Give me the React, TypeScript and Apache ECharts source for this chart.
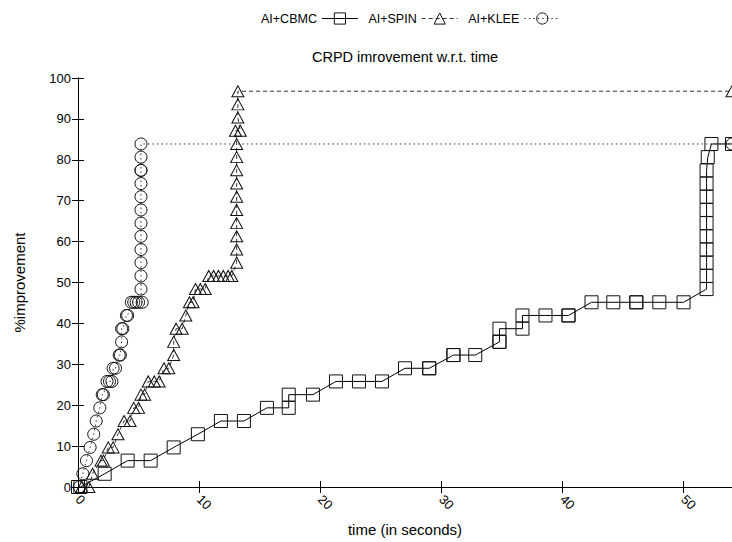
import React, { useEffect, useRef } from "react";
import * as echarts from "echarts";

// ---- data ----
const xTicks = [0, 10, 20, 30, 40, 50];
const yTicks = [0, 10, 20, 30, 40, 50, 60, 70, 80, 90, 100];

const cbmcTime = [0, 0.2, 2.2, 4.1, 6.0, 7.9, 9.9, 11.8, 13.7, 15.6, 17.4, 17.4, 19.4, 21.3, 23.2, 25.1, 27.0, 29.0, 29.0, 31.0, 31.0, 32.8, 34.8, 34.8, 34.8, 36.7, 36.7, 38.6, 40.5, 40.5, 42.4, 44.2, 46.1, 46.1, 48.0, 50.0, 51.9, 51.9, 51.9, 51.9, 51.9, 51.9, 51.9, 51.9, 51.9, 51.9, 52.0, 52.3, 54.0];
const cbmcImprovement = [0, 0, 3.23, 6.45, 6.45, 9.68, 12.9, 16.13, 16.13, 19.35, 19.35, 22.58, 22.58, 25.81, 25.81, 25.81, 29.03, 29.03, 29.03, 32.26, 32.26, 32.26, 35.48, 35.48, 38.71, 38.71, 41.94, 41.94, 41.94, 41.94, 45.16, 45.16, 45.16, 45.16, 45.16, 45.16, 48.39, 51.61, 54.84, 58.06, 61.29, 64.52, 67.74, 70.97, 74.19, 77.42, 80.65, 83.87, 83.87];

const spinTime = [0.3, 0.9, 1.2, 1.9, 2.1, 2.5, 2.9, 3.3, 3.8, 4.3, 4.6, 5.0, 5.2, 5.5, 5.8, 6.3, 6.7, 7.1, 7.5, 7.9, 7.9, 8.1, 8.6, 8.9, 9.2, 9.5, 9.7, 10.1, 10.5, 10.8, 11.2, 11.6, 12.0, 12.4, 12.7, 13.1, 13.1, 13.1, 13.1, 13.1, 13.1, 13.1, 13.1, 13.1, 13.1, 13.0, 13.4, 13.2, 13.2, 13.2, 54.0];
const spinImprovement = [0, 0, 3.23, 6.45, 6.45, 9.68, 9.68, 12.9, 16.13, 16.13, 19.35, 19.35, 22.58, 22.58, 25.81, 25.81, 25.81, 29.03, 29.03, 32.26, 35.48, 38.71, 38.71, 41.94, 45.16, 45.16, 48.39, 48.39, 48.39, 51.61, 51.61, 51.61, 51.61, 51.61, 51.61, 54.84, 58.06, 61.29, 64.52, 67.74, 70.97, 74.19, 77.42, 80.65, 83.87, 87.1, 87.1, 90.32, 93.55, 96.77, 96.77];

const kleeTime = [0.1, 0.4, 0.7, 1.0, 1.3, 1.5, 1.8, 2.0, 2.1, 2.4, 2.6, 2.8, 2.9, 3.1, 3.4, 3.5, 3.6, 3.6, 3.7, 4.0, 4.1, 4.4, 4.6, 4.8, 5.0, 5.3, 5.2, 5.2, 5.2, 5.2, 5.2, 5.2, 5.2, 5.2, 5.2, 5.2, 5.2, 5.2, 5.2, 54.0];
const kleeImprovement = [0, 3.23, 6.45, 9.68, 12.9, 16.13, 19.35, 22.58, 22.58, 25.81, 25.81, 25.81, 29.03, 29.03, 32.26, 32.26, 35.48, 38.71, 38.71, 41.94, 41.94, 45.16, 45.16, 45.16, 45.16, 45.16, 48.39, 51.61, 54.84, 58.06, 61.29, 64.52, 67.74, 70.97, 74.19, 77.42, 77.42, 80.65, 83.87, 83.87];

const seriesNames = ["AI+CBMC", "AI+SPIN", "AI+KLEE"];
const titleText = "CRPD imrovement w.r.t. time";
const xName = "time (in seconds)";
const yName = "%improvement";

const FONT = '"Liberation Sans", Arial, Helvetica, sans-serif';

const pairs = (xs: number[], ys: number[]) => xs.map((x, i) => [x, ys[i]]);

export default function App() {
  const ref = useRef<HTMLDivElement>(null);
  useEffect(() => {
    if (!ref.current) return;
    const chart = echarts.init(ref.current, undefined, { renderer: "svg" });
    const xMin = xTicks[0];
    const xMax = 54;
    const yMin = yTicks[0];
    const yMax = yTicks[yTicks.length - 1];
    const axisCommon = {
      axisLine: { show: true, lineStyle: { color: "#000", width: 1 } },
      axisTick: { show: true, inside: true, length: 6, lineStyle: { color: "#000", width: 1 } },
      splitLine: { show: false },
    };
    const markerStyle = { color: "rgba(0,0,0,0)", borderColor: "#111", borderWidth: 1 };
    chart.setOption({
      animation: false,
      backgroundColor: "#fff",
      textStyle: { fontFamily: FONT, fontSize: 13, color: "#000" },
      grid: { left: 78, top: 78, right: -1, bottom: 52, show: false },
      legend: {
        top: 7,
        left: 256,
        align: "right",
        itemWidth: 36,
        itemHeight: 14,
        itemGap: 10,
        data: seriesNames,
        lineStyle: { width: 1 },
        itemStyle: { borderWidth: 1 },
        textStyle: { fontFamily: FONT, fontSize: 12.5, color: "#000" },
      },
      graphic: [
        {
          type: "text",
          x: 405,
          y: 57,
          style: {
            text: titleText,
            textAlign: "center",
            textVerticalAlign: "middle",
            verticalAlign: "middle",
            fontFamily: FONT,
            fontSize: 14.5,
            fill: "#000",
          },
        },
      ],
      xAxis: [
        {
          type: "value",
          position: "bottom",
          min: xMin,
          max: xMax,
          interval: 10,
          name: xName,
          nameLocation: "middle",
          nameGap: 35,
          nameTextStyle: { fontFamily: FONT, fontSize: 15, color: "#000" },
          axisLabel: { rotate: -45, margin: 10, color: "#000", fontFamily: FONT, fontSize: 13, showMaxLabel: false },
          ...axisCommon,
        },
        {
          type: "value",
          position: "top",
          min: xMin,
          max: xMax,
          interval: 10,
          axisLabel: { show: false },
          ...axisCommon,
        },
      ],
      yAxis: [
        {
          type: "value",
          position: "left",
          min: yMin,
          max: yMax,
          interval: 10,
          name: yName,
          nameLocation: "middle",
          nameGap: 51,
          nameTextStyle: { fontFamily: FONT, fontSize: 15, color: "#000" },
          axisLabel: { margin: 7, color: "#000", fontFamily: FONT, fontSize: 13 },
          ...axisCommon,
        },
        {
          type: "value",
          position: "right",
          min: yMin,
          max: yMax,
          interval: 10,
          axisLabel: { show: false },
          ...axisCommon,
        },
      ],
      series: [
        {
          name: seriesNames[0],
          type: "line",
          data: pairs(cbmcTime, cbmcImprovement),
          symbol: "rect",
          symbolSize: 13,
          showAllSymbol: true,
          itemStyle: markerStyle,
          lineStyle: { color: "#000", width: 1, type: "solid" },
          z: 3,
        },
        {
          name: seriesNames[1],
          type: "line",
          data: pairs(spinTime, spinImprovement),
          symbol: "triangle",
          symbolSize: [12, 11],
          showAllSymbol: true,
          itemStyle: markerStyle,
          lineStyle: { color: "#333", width: 1, type: [4, 3] },
          z: 4,
        },
        {
          name: seriesNames[2],
          type: "line",
          data: pairs(kleeTime, kleeImprovement),
          symbol: "circle",
          symbolSize: 12,
          showAllSymbol: true,
          itemStyle: markerStyle,
          lineStyle: { color: "#333", width: 1, type: [1.5, 3] },
          z: 5,
        },
      ],
    });
    return () => chart.dispose();
  }, []);
  return <div ref={ref} style={{ position: "absolute", left: 0, top: 0, width: 732, height: 542 }} />;
}
